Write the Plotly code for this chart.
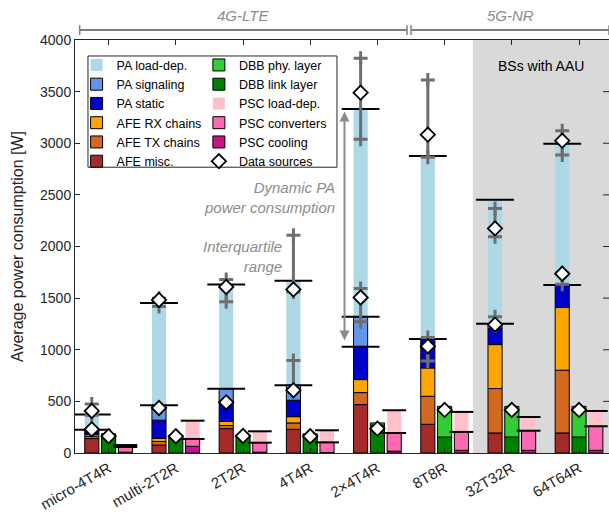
import plotly.graph_objects as go

# ---------------- data (W) ----------------
groups = ['micro-4T4R', 'multi-2T2R', '2T2R', '4T4R', '2×4T4R', '8T8R', '32T32R', '64T64R']
afe_misc = [140, 77, 236, 229, 469, 278, 194, 194]
afe_tx = [22, 35, 30, 62, 116, 271, 430, 608]
afe_rx = [19, 30, 39, 61, 126, 275, 426, 607]
pa_static = [32, 176, 180, 159, 317, 281, 201, 219]
pa_signaling = [13, 144, 137, 145, 291, 0, 0, 0]
pa_full_load = [372, 1452, 1632, 1668, 3332, 2876, 2453, 2996]
pa_extra_line = [None, None, None, None, 1028, None, None, None]
dbb_link = [187, 171, 175, 187, 270, 155, 155, 155]
dbb_phy = [0, 0, 0, 0, 21, 297, 297, 297]
psc_cooling = [8, 65, 8, 5, 18, 26, 26, 26]
psc_converters = [50, 71, 92, 98, 176, 178, 190, 233]
psc_load_top = [77, 313, 210, 220, 414, 398, 349, 407]

src_pa_low = [229, 436, 491, 608, 1506, 1034, 1244, 1736]
src_pa_low_q1 = [None, None, None, 600, 1270, 892, 1230, 1635]
src_pa_low_q3 = [None, None, None, 895, 1593, 1118, 1319, 1745]
src_pa_high = [407, 1482, 1608, 1584, 3490, 3083, 2175, 3025]
src_pa_high_q1 = [365, 1420, 1465, 1560, 3038, 2864, 2094, 2886]
src_pa_high_q3 = [475, 1500, 1680, 2110, 3823, 3613, 2369, 3122]
src_dbb = [163, 162, 165, 162, 236, 417, 417, 417]

y_ticks = [0, 500, 1000, 1500, 2000, 2500, 3000, 3500, 4000]

# ---------------- styling ----------------
C = dict(pa_load='#ADD8E6', pa_sig='#6495ED', pa_static='#0000CD',
         afe_rx='#FFA500', afe_tx='#D2691E', afe_misc='#A52A2A',
         dbb_phy='#32CD32', dbb_link='#008000',
         psc_load='#FFC0CB', psc_conv='#FF69B4', psc_cool='#C71585')
GRAY_EB = '#6e6e6e'
GRAY_TXT = '#8c8c8c'
AX = '#262626'
FONT = 'Liberation Sans, Arial, sans-serif'
BW = 0.21
n = len(groups)
xg = [i + 1 for i in range(n)]
x_pa = [v - 0.25 for v in xg]
x_dbb = xg
x_psc = [v + 0.25 for v in xg]


def nz(vals):
    return [v if v else None for v in vals]


def cum(*lists):
    out = [0] * n
    for l in lists:
        out = [a + b for a, b in zip(out, l)]
    return out


fig = go.Figure()


def add_bar(x, base, h, color, name, legend, rank, outline=True):
    fig.add_trace(go.Bar(
        x=x, y=nz(h), base=base, width=BW, name=name,
        marker=dict(color=color, line=dict(color='black', width=1 if outline else 0)),
        legend=legend, legendrank=rank, hoverinfo='skip'))


# PA stacks
idle_top = cum(afe_misc, afe_tx, afe_rx, pa_static, pa_signaling)
add_bar(x_pa, idle_top, [f - b for f, b in zip(pa_full_load, idle_top)], C['pa_load'],
        'PA load-dep.', 'legend', 1, outline=False)
conv_top = cum(psc_cooling, psc_converters)
add_bar(x_psc, conv_top, [t - b for t, b in zip(psc_load_top, conv_top)], C['psc_load'],
        'PSC load-dep.', 'legend2', 3, outline=False)

add_bar(x_pa, [0] * n, afe_misc, C['afe_misc'], 'AFE misc.', 'legend', 6)
add_bar(x_pa, cum(afe_misc), afe_tx, C['afe_tx'], 'AFE TX chains', 'legend', 5)
add_bar(x_pa, cum(afe_misc, afe_tx), afe_rx, C['afe_rx'], 'AFE RX chains', 'legend', 4)
add_bar(x_pa, cum(afe_misc, afe_tx, afe_rx), pa_static, C['pa_static'], 'PA static', 'legend', 3)
add_bar(x_pa, cum(afe_misc, afe_tx, afe_rx, pa_static), pa_signaling, C['pa_sig'], 'PA signaling', 'legend', 2)

add_bar(x_dbb, [0] * n, dbb_link, C['dbb_link'], 'DBB link layer', 'legend2', 2)
add_bar(x_dbb, dbb_link, dbb_phy, C['dbb_phy'], 'DBB phy. layer', 'legend2', 1)

add_bar(x_psc, [0] * n, psc_cooling, C['psc_cool'], 'PSC cooling', 'legend2', 5)
add_bar(x_psc, psc_cooling, psc_converters, C['psc_conv'], 'PSC converters', 'legend2', 4)

# black reference lines
lx, ly = [], []
for i in range(n):
    for v in (idle_top[i], pa_full_load[i], pa_extra_line[i]):
        if v is not None:
            lx.append(x_pa[i]); ly.append(v)
fig.add_trace(go.Scatter(x=lx, y=ly, mode='markers', showlegend=False, hoverinfo='skip',
                         marker=dict(symbol='line-ew', size=27, line=dict(color='black', width=2))))
px_, py_ = [], []
for i in range(n):
    for v in (conv_top[i], psc_load_top[i]):
        px_.append(x_psc[i]); py_.append(v)
fig.add_trace(go.Scatter(x=px_, y=py_, mode='markers', showlegend=False, hoverinfo='skip',
                         marker=dict(symbol='line-ew', size=17, line=dict(color='black', width=2))))

# interquartile ranges
ex, ey, cx, cy = [], [], [], []
for q1s, q3s in ((src_pa_low_q1, src_pa_low_q3), (src_pa_high_q1, src_pa_high_q3)):
    for i in range(n):
        if q1s[i] is None:
            continue
        ex += [x_pa[i], x_pa[i], None]
        ey += [q1s[i], q3s[i], None]
        cx += [x_pa[i], x_pa[i]]
        cy += [q1s[i], q3s[i]]
fig.add_trace(go.Scatter(x=ex, y=ey, mode='lines', showlegend=False, hoverinfo='skip',
                         line=dict(color=GRAY_EB, width=3)))
fig.add_trace(go.Scatter(x=cx, y=cy, mode='markers', showlegend=False, hoverinfo='skip',
                         marker=dict(symbol='cross-thin', size=10, line=dict(color=GRAY_EB, width=3))))

# data sources
dx = x_pa + x_pa + x_dbb
dy = src_pa_low + src_pa_high + src_dbb
fig.add_trace(go.Scatter(x=dx, y=dy, mode='markers', name='Data sources', legend='legend2', legendrank=6,
                         marker=dict(symbol='diamond', size=11, color='white',
                                     line=dict(color='black', width=1.8)), hoverinfo='skip'))

# ---------------- layout ----------------
XMAX = 8.446
shapes = [
    dict(type='rect', xref='x', yref='y', x0=6.42, x1=XMAX, y0=0, y1=4000,
         fillcolor='#d9d9d9', line=dict(width=0), layer='below'),
    dict(type='rect', xref='paper', yref='paper', x0=0.0243, x1=0.4906, y0=0.692, y1=0.9613,
         fillcolor='white', line=dict(color=AX, width=1), layer='below'),
]
for a, b in ((0.57, 5.44), (5.5, XMAX)):
    shapes.append(dict(type='line', xref='x', yref='paper', x0=a, x1=b, y0=1.024, y1=1.024,
                       line=dict(color='#7f7f7f', width=2)))
    for e in (a, b):
        shapes.append(dict(type='line', xref='x', yref='paper', x0=e, x1=e, y0=1.012, y1=1.036,
                           line=dict(color='#7f7f7f', width=1.5)))
for t in y_ticks[1:-1]:
    shapes.append(dict(type='line', xref='paper', yref='y', x0=1 - 6 / 534, x1=1, y0=t, y1=t,
                       line=dict(color=AX, width=1)))

annotations = [
    dict(x=(0.57 + 5.44) / 2, y=1.060, xref='x', yref='paper', yanchor='middle',
         text='<i>4G-LTE</i>', showarrow=False, font=dict(size=15, color=GRAY_TXT)),
    dict(x=(5.5 + XMAX) / 2, y=1.060, xref='x', yref='paper', yanchor='middle',
         text='<i>5G-NR</i>', showarrow=False, font=dict(size=15, color=GRAY_TXT)),
    dict(x=7.43, y=3745, xref='x', yref='y', text='BSs with AAU', showarrow=False,
         font=dict(size=14, color='black')),
    dict(x=4.393, y=2476, xref='x', yref='y', text='<i>Dynamic PA<br>power consumption</i>',
         showarrow=False, xanchor='right', align='right', font=dict(size=15, color=GRAY_TXT)),
    dict(x=3.604, y=1903, xref='x', yref='y', text='<i>Interquartile<br>range</i>',
         showarrow=False, xanchor='right', align='right', font=dict(size=15, color=GRAY_TXT)),
    dict(x=4.51, y=3307, ax=4.51, ay=1076, xref='x', yref='y', axref='x', ayref='y', text='',
         showarrow=True, arrowhead=2, startarrowhead=2, arrowside='end+start', arrowwidth=2,
         arrowsize=1, startarrowsize=1, arrowcolor=GRAY_TXT),
]

legend_common = dict(bgcolor='rgba(0,0,0,0)', borderwidth=0, font=dict(size=12.5, color='black', family=FONT),
                     tracegroupgap=0, xanchor='left', yanchor='top', orientation='v', itemclick=False)

fig.update_layout(
    width=609, height=516,
    margin=dict(l=75, r=0, t=40, b=63),
    plot_bgcolor='white', paper_bgcolor='white',
    barmode='overlay',
    font=dict(family=FONT, color=AX),
    showlegend=True,
    legend=dict(x=0.003, y=0.975, **legend_common),
    legend2=dict(x=0.232, y=0.975, **legend_common),
    xaxis=dict(range=[0.5, XMAX], tickvals=xg, ticktext=groups, tickangle=-30, automargin=False,
               ticks='inside', ticklen=5, tickcolor=AX, showline=True, linecolor=AX, linewidth=1,
               mirror='ticks', showgrid=False, zeroline=False, tickfont=dict(size=15, color=AX)),
    yaxis=dict(range=[0, 4000], tickvals=y_ticks, ticks='inside', ticklen=5, tickcolor=AX,
               showline=True, linecolor=AX, linewidth=1, showgrid=False, zeroline=False,
               automargin=False, tickfont=dict(size=14, color=AX),
               title=dict(text='Average power consumption [W]', font=dict(size=16, color=AX), standoff=12)),
    shapes=shapes,
    annotations=annotations,
)

fig.write_html('out.html', config={'displayModeBar': False},
               post_script="document.body.style.margin='0';")
